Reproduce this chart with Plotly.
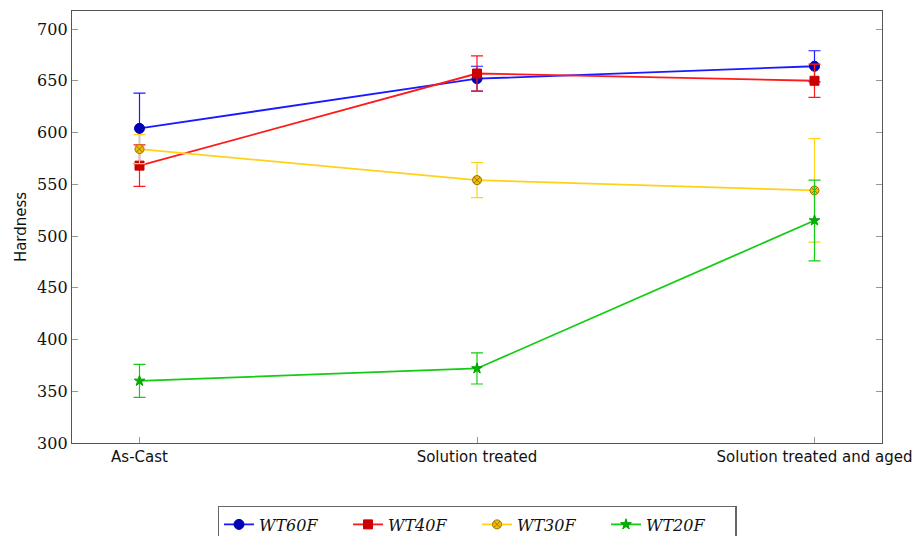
import plotly.graph_objects as go

categories = ["As-Cast", "Solution treated", "Solution treated and aged"]
x_pos = [0, 1, 2]

series_names = ["WT60F", "WT40F", "WT30F", "WT20F"]
wt60f = [604, 652, 664]
wt60f_err = [34, 12, 15]
wt40f = [568, 657, 650]
wt40f_err = [20, 17, 16]
wt30f = [584, 554, 544]
wt30f_err = [14, 17, 50]
wt20f = [360, 372, 515]
wt20f_err = [16, 15, 39]

y_ticks = [300, 350, 400, 450, 500, 550, 600, 650, 700]

styles = [
    dict(line="#1a1aff", fill="#0000b4", symbol="circle", size=10, lw="#0000b4"),
    dict(line="#ff1a1a", fill="#cc0000", symbol="square", size=9, lw="#cc0000"),
    dict(line="#ffd21a", fill="#f0c000", symbol="circle-x", size=9, lw="#a07000"),
    dict(line="#14cc14", fill="#00b400", symbol="star", size=8, lw="#00a000"),
]
data = [wt60f, wt40f, wt30f, wt20f]
errs = [wt60f_err, wt40f_err, wt30f_err, wt20f_err]

fig = go.Figure()
for name, ys, es, st in zip(series_names, data, errs, styles):
    fig.add_trace(go.Scatter(
        x=x_pos, y=ys, name=f"<i>{name}</i>", mode="lines+markers",
        line=dict(color=st["line"], width=1.8),
        marker=dict(symbol=st["symbol"], size=st["size"], color=st["fill"],
                    line=dict(color=st["lw"], width=1)),
        error_y=dict(type="data", array=es, visible=True, color=st["line"],
                     thickness=1.2, width=6),
    ))

fig.update_layout(
    width=919, height=536,
    margin=dict(l=72, r=37, t=11, b=93),
    plot_bgcolor="white", paper_bgcolor="white",
    showlegend=True,
    legend=dict(orientation="h", x=0.5, xanchor="center",
                yref="container", y=0.056, yanchor="top",
                bordercolor="#666666", borderwidth=1.5,
                font=dict(family="DejaVu Serif", size=16, color="#111"),
                entrywidth=84, itemwidth=30, tracegroupgap=0),
    xaxis=dict(range=[-0.2, 2.2], tickmode="array", tickvals=x_pos, ticktext=categories,
               automargin=False,
               showgrid=False, zeroline=False, showline=True, linecolor="#555555",
               linewidth=1.3, mirror=True, ticks="inside", ticklen=6, tickcolor="#999999",
               tickfont=dict(family="DejaVu Sans", size=15, color="#111")),
    yaxis=dict(range=[300, 717.4], tickmode="array", tickvals=y_ticks,
               automargin=False,
               showgrid=False, zeroline=False, showline=True, linecolor="#555555",
               linewidth=1.3, mirror="ticks", ticks="inside", ticklen=6, tickcolor="#999999",
               tickfont=dict(family="DejaVu Serif", size=16, color="#111"),
               title=dict(text="Hardness", font=dict(family="DejaVu Sans", size=15, color="#111"),
                          standoff=6)),
)

fig.write_html("out.html", config={"displayModeBar": False},
               post_script="document.body.style.margin='0';")
